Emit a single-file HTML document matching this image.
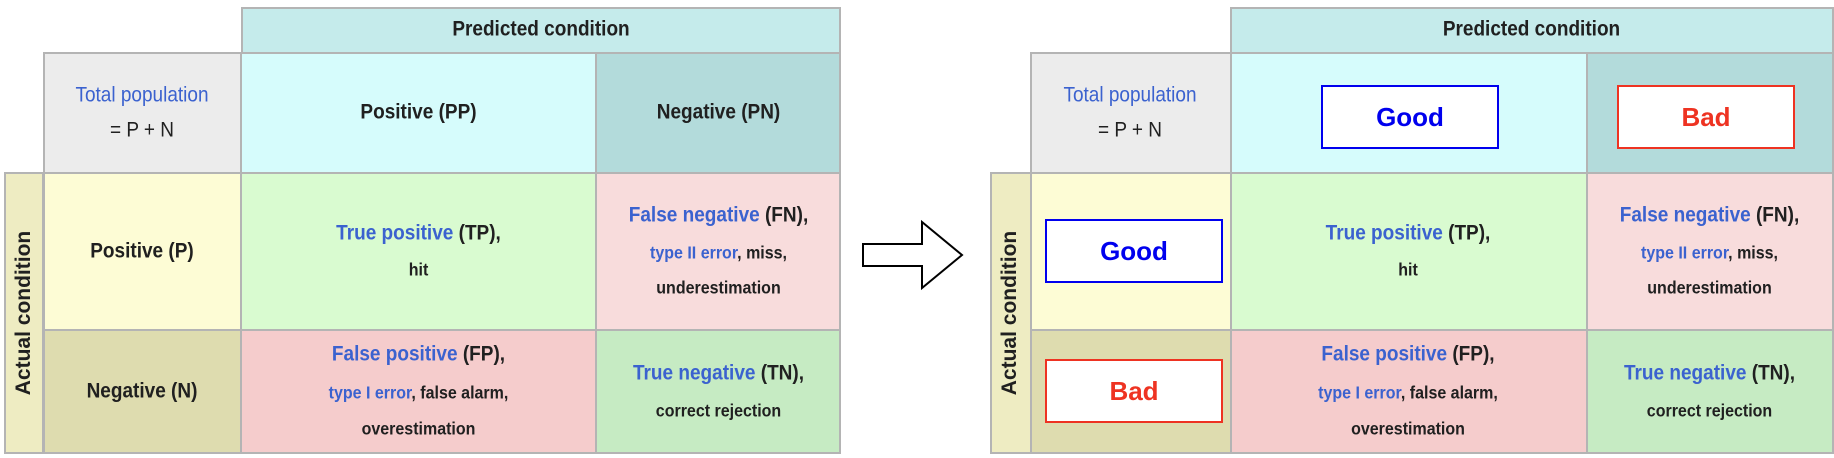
<!DOCTYPE html>
<html><head><meta charset="utf-8"><style>
body{margin:0;width:1834px;height:458px;background:#fff;position:relative;overflow:hidden;font-family:"Liberation Sans",Arial,sans-serif}
.c{position:absolute;box-sizing:border-box;border:2px solid #b4b4b4}
.t{position:absolute;text-align:center;line-height:26px;height:26px;font-size:19px;font-weight:bold;color:#202020;white-space:nowrap;transform:scaleY(1.12)}
.s{font-size:16px}
.b{color:#3b62cf}
.r{font-weight:normal}
.box{position:absolute;box-sizing:border-box;background:#fff;border:2px solid;text-align:center;font-weight:bold;font-size:26px;transform-origin:center}
.v{position:absolute;font-weight:bold;font-size:21px;color:#202020;white-space:nowrap;transform:translate(-50%,-50%) rotate(-90deg);left:0;top:0}
</style></head><body>
<!-- LEFT TABLE -->
<div class="c" style="left:241px;top:7px;width:600px;height:47px;background:#c5ebeb"></div>
<div class="c" style="left:43px;top:52px;width:199px;height:122px;background:#ececec"></div>
<div class="c" style="left:240px;top:52px;width:357px;height:122px;background:#d6fcfc"></div>
<div class="c" style="left:595px;top:52px;width:246px;height:122px;background:#b3dbdb"></div>
<div class="c" style="left:4px;top:172px;width:40px;height:282px;background:#eeecc2"></div>
<div class="c" style="left:43px;top:172px;width:199px;height:159px;background:#fdfcd5"></div>
<div class="c" style="left:240px;top:172px;width:357px;height:159px;background:#d9fbd0"></div>
<div class="c" style="left:595px;top:172px;width:246px;height:159px;background:#f8dcdc"></div>
<div class="c" style="left:43px;top:329px;width:199px;height:125px;background:#dedcaf"></div>
<div class="c" style="left:240px;top:329px;width:357px;height:125px;background:#f5cccc"></div>
<div class="c" style="left:595px;top:329px;width:246px;height:125px;background:#c6ebc3"></div>

<div class="t" style="left:241px;width:600px;top:17px">Predicted condition</div>
<div class="t r b" style="left:43px;width:198px;top:83px">Total population</div>
<div class="t r" style="left:43px;width:198px;top:118px">= P + N</div>
<div class="t" style="left:241px;width:355px;top:100px">Positive (PP)</div>
<div class="t" style="left:596px;width:245px;top:100px">Negative (PN)</div>
<div class="t" style="left:43px;width:198px;top:239px">Positive (P)</div>
<div class="t" style="left:43px;width:198px;top:379px">Negative (N)</div>
<div class="t" style="left:241px;width:355px;top:221px"><span class="b">True positive</span> (TP),</div>
<div class="t s" style="left:241px;width:355px;top:258px">hit</div>
<div class="t" style="left:596px;width:245px;top:203px"><span class="b">False negative</span> (FN),</div>
<div class="t s" style="left:596px;width:245px;top:241px"><span class="b">type II error</span>, miss,</div>
<div class="t s" style="left:596px;width:245px;top:276px">underestimation</div>
<div class="t" style="left:241px;width:355px;top:342px"><span class="b">False positive</span> (FP),</div>
<div class="t s" style="left:241px;width:355px;top:381px"><span class="b">type I error</span>, false alarm,</div>
<div class="t s" style="left:241px;width:355px;top:417px">overestimation</div>
<div class="t" style="left:596px;width:245px;top:361px"><span class="b">True negative</span> (TN),</div>
<div class="t s" style="left:596px;width:245px;top:399px">correct rejection</div>
<div style="position:absolute;left:24px;top:313px"><div class="v">Actual condition</div></div>

<!-- ARROW -->
<svg style="position:absolute;left:0;top:0" width="1834" height="458"><polygon points="863,244 922,244 922,222 962,255 922,288 922,266 863,266" fill="#fff" stroke="#000" stroke-width="2"/></svg>

<!-- RIGHT TABLE -->
<div class="c" style="left:1230px;top:7px;width:604px;height:47px;background:#c5ebeb"></div>
<div class="c" style="left:1030px;top:52px;width:202px;height:122px;background:#ececec"></div>
<div class="c" style="left:1230px;top:52px;width:358px;height:122px;background:#d6fcfc"></div>
<div class="c" style="left:1586px;top:52px;width:248px;height:122px;background:#b3dbdb"></div>
<div class="c" style="left:990px;top:172px;width:42px;height:282px;background:#eeecc2"></div>
<div class="c" style="left:1030px;top:172px;width:202px;height:159px;background:#fdfcd5"></div>
<div class="c" style="left:1230px;top:172px;width:358px;height:159px;background:#d9fbd0"></div>
<div class="c" style="left:1586px;top:172px;width:248px;height:159px;background:#f8dcdc"></div>
<div class="c" style="left:1030px;top:329px;width:202px;height:125px;background:#dedcaf"></div>
<div class="c" style="left:1230px;top:329px;width:358px;height:125px;background:#f5cccc"></div>
<div class="c" style="left:1586px;top:329px;width:248px;height:125px;background:#c6ebc3"></div>

<div class="t" style="left:1230px;width:603px;top:17px">Predicted condition</div>
<div class="t r b" style="left:1030px;width:200px;top:83px">Total population</div>
<div class="t r" style="left:1030px;width:200px;top:118px">= P + N</div>
<div class="t" style="left:1230px;width:356px;top:221px"><span class="b">True positive</span> (TP),</div>
<div class="t s" style="left:1230px;width:356px;top:258px">hit</div>
<div class="t" style="left:1586px;width:247px;top:203px"><span class="b">False negative</span> (FN),</div>
<div class="t s" style="left:1586px;width:247px;top:241px"><span class="b">type II error</span>, miss,</div>
<div class="t s" style="left:1586px;width:247px;top:276px">underestimation</div>
<div class="t" style="left:1230px;width:356px;top:342px"><span class="b">False positive</span> (FP),</div>
<div class="t s" style="left:1230px;width:356px;top:381px"><span class="b">type I error</span>, false alarm,</div>
<div class="t s" style="left:1230px;width:356px;top:417px">overestimation</div>
<div class="t" style="left:1586px;width:247px;top:361px"><span class="b">True negative</span> (TN),</div>
<div class="t s" style="left:1586px;width:247px;top:399px">correct rejection</div>
<div style="position:absolute;left:1010px;top:313px"><div class="v">Actual condition</div></div>

<div class="box" style="left:1321px;top:85px;width:178px;height:64px;line-height:60px;border-color:#0000ee;color:#0000ee">Good</div>
<div class="box" style="left:1617px;top:85px;width:178px;height:64px;line-height:60px;border-color:#ee3322;color:#ee3322">Bad</div>
<div class="box" style="left:1045px;top:219px;width:178px;height:64px;line-height:60px;border-color:#0000ee;color:#0000ee">Good</div>
<div class="box" style="left:1045px;top:359px;width:178px;height:64px;line-height:60px;border-color:#ee3322;color:#ee3322">Bad</div>
</body></html>
